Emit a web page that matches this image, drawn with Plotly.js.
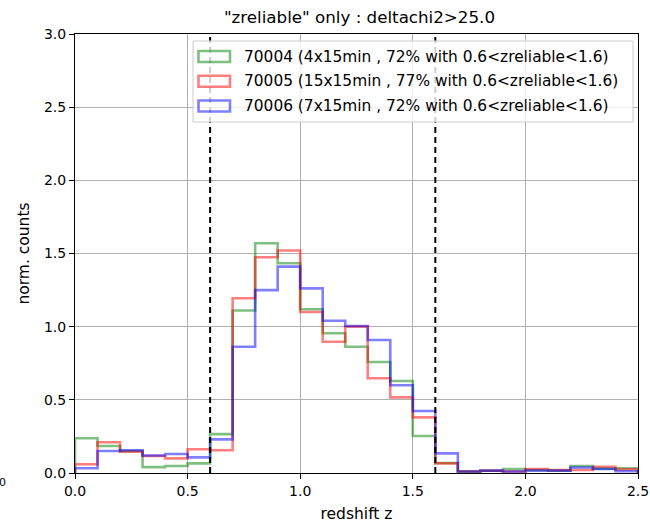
<!DOCTYPE html>
<html>
<head>
<meta charset="utf-8">
<script src="https://cdn.plot.ly/plotly-3.0.1.min.js"></script>
<style>
html,body{margin:0;padding:0;background:#fff;}
#chart{width:650px;height:525px;}
</style>
</head>
<body>
<div id="chart"></div>
<script>
// bin edges (redshift z), width 0.1 from 0.0 to 2.5
var binEdges = [0.0,0.1,0.2,0.3,0.4,0.5,0.6,0.7,0.8,0.9,1.0,1.1,1.2,1.3,1.4,1.5,1.6,1.7,1.8,1.9,2.0,2.1,2.2,2.3,2.4,2.5];

var seriesNames = [
  "70004 (4x15min , 72% with 0.6<zreliable<1.6)",
  "70005 (15x15min , 77% with 0.6<zreliable<1.6)",
  "70006 (7x15min , 72% with 0.6<zreliable<1.6)"
];

var counts70004 = [0.237,0.185,0.150,0.040,0.048,0.066,0.266,1.110,1.570,1.433,1.119,0.955,0.863,0.759,0.629,0.253,0.068,0.010,0.015,0.027,0.020,0.015,0.048,0.030,0.032];
var counts70005 = [0.060,0.210,0.145,0.116,0.100,0.162,0.155,1.194,1.474,1.520,1.100,0.897,1.000,0.647,0.517,0.380,0.066,0.010,0.015,0.010,0.027,0.020,0.020,0.043,0.025];
var counts70006 = [0.032,0.150,0.155,0.120,0.130,0.107,0.230,0.863,1.250,1.410,1.262,1.040,1.005,0.909,0.600,0.424,0.134,0.010,0.016,0.010,0.016,0.016,0.038,0.027,0.012];

var cutLines = [0.6, 1.6];

var xTicks = [0.0,0.5,1.0,1.5,2.0,2.5];
var yTicks = [0.0,0.5,1.0,1.5,2.0,2.5,3.0];

var colors = ["rgba(0,128,0,0.5)","rgba(255,0,0,0.5)","rgba(0,0,255,0.5)"];

function stepTrace(vals, color){
  var xs = [binEdges[0]];
  var ys = [0];
  for (var i = 0; i < vals.length; i++){ xs.push(binEdges[i]); ys.push(vals[i]); }
  xs.push(binEdges[binEdges.length-1]); ys.push(0);
  return {x: xs, y: ys, type:'scatter', mode:'lines',
          line:{shape:'hv', color: color, width: 2.6}, showlegend:false, hoverinfo:'skip'};
}

var allCounts = [counts70004, counts70005, counts70006];
var data = [];
for (var k = 0; k < 3; k++) data.push(stepTrace(allCounts[k], colors[k]));
cutLines.forEach(function(z){
  data.push({x:[z,z], y:[0,3], type:'scatter', mode:'lines',
    line:{color:'black', width:2, dash:'6px,4px'}, showlegend:false, hoverinfo:'skip'});
});

// custom legend (matplotlib-style patch boxes)
var L = 75, W = 563, T = 34, H = 439;
function px(x){ return (x - L) / W; }
function py(y){ return (T + H - y) / H; }
var shapes = [{
  type:'rect', xref:'paper', yref:'paper',
  x0:px(193), x1:px(633), y0:py(41), y1:py(122),
  line:{color:'#cccccc', width:1}, fillcolor:'rgba(255,255,255,0.8)', layer:'above'
}];
var annotations = [];
var rowY = [56.5, 81.2, 106];
for (var k = 0; k < 3; k++){
  shapes.push({type:'rect', xref:'paper', yref:'paper',
    x0:px(198.5), x1:px(230), y0:py(rowY[k]-5.5), y1:py(rowY[k]+5.5),
    line:{color:colors[k], width:2.6}, fillcolor:'rgba(0,0,0,0)', layer:'above'});
  annotations.push({xref:'paper', yref:'paper', x:px(242), y:py(rowY[k]),
    xanchor:'left', yanchor:'middle', text: seriesNames[k].replace(/</g,'&lt;'), showarrow:false,
    font:{family:'DejaVu Sans', size:15.4, color:'#000'}});
}
annotations.push({xref:'paper', yref:'paper', x:px(7.5), y:py(482), xanchor:'right', yanchor:'middle',
  text:'0', showarrow:false, font:{family:'DejaVu Sans', size:11, color:'#000'}});

var layout = {
  width:650, height:525,
  margin:{l:L, r:650-L-W, t:T, b:525-T-H, pad:0},
  paper_bgcolor:'#fff', plot_bgcolor:'#fff',
  font:{family:'DejaVu Sans', size:14, color:'#000'},
  title:{text:'"zreliable" only : deltachi2>25.0', x:0.553, xanchor:'center', y:0.968, yanchor:'middle',
         font:{family:'DejaVu Sans', size:16.7, color:'#000'}},
  xaxis:{range:[0,2.5], tickvals:xTicks, ticktext:xTicks.map(function(v){return v.toFixed(1);}),
         showgrid:true, gridcolor:'#b0b0b0', gridwidth:1, zeroline:false,
         showline:true, linecolor:'#000', linewidth:1, mirror:true,
         ticks:'outside', ticklen:5, tickcolor:'#000', tickwidth:1,
         tickfont:{family:'DejaVu Sans', size:14, color:'#000'},
         title:{text:'redshift z', font:{family:'DejaVu Sans', size:15.5, color:'#000'}, standoff:10}},
  yaxis:{range:[0,3], tickvals:yTicks, ticktext:yTicks.map(function(v){return v.toFixed(1);}),
         showgrid:true, gridcolor:'#b0b0b0', gridwidth:1, zeroline:false,
         showline:true, linecolor:'#000', linewidth:1, mirror:true,
         ticks:'outside', ticklen:5, tickcolor:'#000', tickwidth:1,
         tickfont:{family:'DejaVu Sans', size:14, color:'#000'},
         title:{text:'norm. counts', font:{family:'DejaVu Sans', size:15.5, color:'#000'}, standoff:10}},
  shapes: shapes,
  annotations: annotations,
  showlegend:false
};

Plotly.newPlot('chart', data, layout, {displayModeBar:false, staticPlot:true});
</script>
</body>
</html>
